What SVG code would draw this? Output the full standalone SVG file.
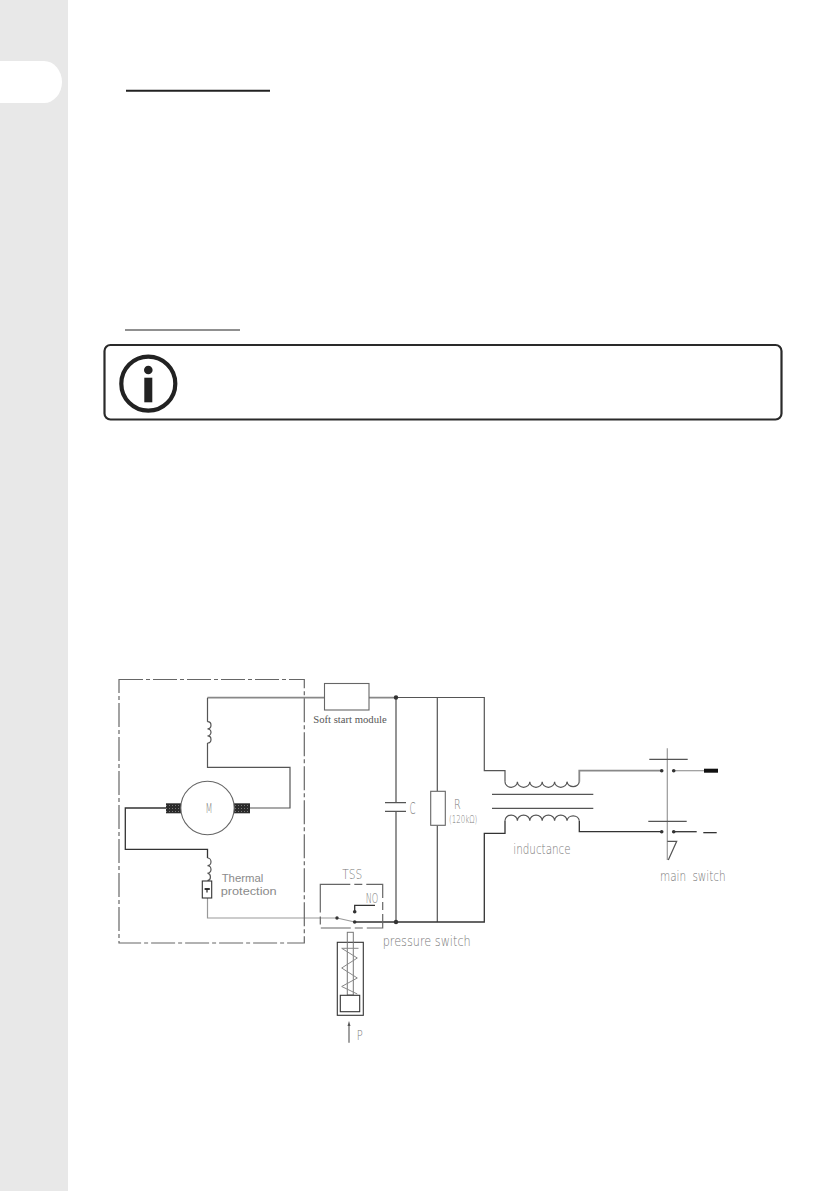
<svg xmlns="http://www.w3.org/2000/svg" width="839" height="1191" viewBox="0 0 839 1191">
<style>
.w{fill:none;stroke:#555;stroke-width:1.2}
.d{fill:none;stroke:#333;stroke-width:1.3}
.g{fill:none;stroke:#999;stroke-width:1.2}
.h{fill:none;stroke:#888;stroke-width:1.8}
.b{fill:#fff;stroke:#666;stroke-width:1.1}
.dash{fill:none;stroke:#666;stroke-width:1.2}
.dot{fill:#333}
text{font-family:"DejaVu Sans","Liberation Sans",sans-serif;fill:#777;font-weight:200;font-size:14px;opacity:.99}
.s{font-family:"Liberation Serif",serif;fill:#555;font-size:11px}
.t{font-family:"Liberation Sans",sans-serif;font-weight:400;fill:#8a8a8a;font-size:11.5px}
</style>
<defs>
<pattern id="brush" width="3" height="3" patternUnits="userSpaceOnUse">
<rect width="3" height="3" fill="#2b2b2b"/>
<rect x="1" y="1" width="1" height="1" fill="#777"/>
</pattern>
</defs>
<rect width="839" height="1191" fill="#fff"/>
<g id="page">
<rect x="0" y="0" width="68" height="1191" fill="#e8e8e8"/>
<path d="M0 61H44A18 21 0 0 1 62 82A18 21 0 0 1 44 103H0Z" fill="#fff"/>
<path d="M126 90.7H270" stroke="#222" stroke-width="2" fill="none"/>
<path d="M125 330H240" stroke="#222" stroke-width="1.2" fill="none"/>
</g>
<g id="info-box">
<rect x="104.5" y="345" width="677" height="74.5" rx="6" fill="#fff" stroke="#2a2a2a" stroke-width="2.2"/>
<circle cx="148.3" cy="383.7" r="27" fill="none" stroke="#222" stroke-width="4.2"/>
<circle cx="148.3" cy="370" r="4.3" fill="#222"/>
<rect x="144.3" y="377.7" width="8" height="24.6" fill="#222"/>
</g>
<g id="connectors">
<path class="h" d="M207.5 697.7H324.5M369 697.7H396"/>
<path class="w" d="M396 697.5H484.3V770.7H505V781.7"/>
<path class="w" d="M207.5 697.7V721.7M207.5 743V767.3H290V808H250"/>
<path class="d" d="M166 808H125.3V849.3H207.5V858"/>
<path class="g" d="M207.5 898V918H337"/>
<path class="h" d="M396 697.5V922"/>
<path class="w" d="M437.3 697.5V791.3M437.3 825.3V922"/>
<path class="d" d="M354.7 922H484.3V833.3H505V820.7"/>
<path class="h" d="M579.3 781.7V770.7H661.7"/>
<path class="d" d="M579.3 820.7V831.7H661.7"/>
<path class="g" d="M673.7 770.7H704"/>
<path class="d" d="M673.7 831.7H696.7"/>
</g>
<g id="motor-box"><rect class="dash" x="119" y="679.5" width="185.3" height="263.5" stroke-dasharray="24 3 4 3"/></g>
<g id="soft-start">
<rect class="b" x="324.5" y="683.5" width="44.5" height="26.5" stroke="#444"/>
<text class="s" x="313.3" y="722.7" textLength="73.4" lengthAdjust="spacingAndGlyphs">Soft start module</text>
</g>
<g id="field-coil-top"><path class="w" d="M207.5 721.7a3.5 3.55 0 0 1 0 7.1a3.5 3.55 0 0 1 0 7.1a3.5 3.55 0 0 1 0 7.1"/></g>
<g id="motor">
<rect x="166" y="803.3" width="15" height="10" fill="url(#brush)"/>
<rect x="233" y="803.3" width="17" height="10" fill="url(#brush)"/>
<circle cx="207.5" cy="808" r="26.7" fill="#fff" stroke="#666" stroke-width="1.1"/>
<text x="205.5" y="812.5" font-size="14" style="font-size:14px" textLength="7" lengthAdjust="spacingAndGlyphs">M</text>
</g>
<g id="field-coil-bottom"><path class="w" d="M207.5 858a3.5 3.8 0 0 1 0 7.6a3.5 3.8 0 0 1 0 7.6a3.5 3.8 0 0 1 0 7.5"/></g>
<g id="thermal-protection">
<rect x="202.3" y="881" width="9.4" height="17" fill="#fff" stroke="#333" stroke-width="1.1"/>
<path d="M204.6 889H209.8" stroke="#222" stroke-width="1.8" fill="none"/>
<path d="M207 889V892.5" stroke="#222" stroke-width="1.2" fill="none"/>
<text class="t" x="221.7" y="881.7" textLength="41.6" lengthAdjust="spacingAndGlyphs">Thermal</text>
<text class="t" x="220.7" y="895" textLength="56" lengthAdjust="spacingAndGlyphs">protection</text>
</g>
<g id="tss">
<rect class="dash" x="320.3" y="884.3" width="62.4" height="43.7" stroke-dasharray="30 4 8 4"/>
<text x="342.3" y="879" textLength="20" lengthAdjust="spacingAndGlyphs">TSS</text>
<text x="365.7" y="902.7" textLength="12.6" lengthAdjust="spacingAndGlyphs">NO</text>
<path class="g" d="M337 918L354.7 922" stroke="#666"/>
<path class="d" d="M354.7 911.7V905.3H375"/>
<circle class="dot" cx="337" cy="918" r="1.7"/>
<circle class="dot" cx="354.7" cy="922" r="1.8"/>
<circle class="dot" cx="354.7" cy="911.7" r="1.8"/>
</g>
<g id="junctions">
<circle class="dot" cx="396" cy="697.5" r="2.2"/>
<circle class="dot" cx="396" cy="922" r="2.2"/>
</g>
<g id="capacitor">
<rect x="385" y="803" width="21" height="8" fill="#fff"/>
<path class="w" d="M385 802.7H406M385 811.3H406"/>
<text x="409.5" y="813.5" style="font-size:16px" textLength="6" lengthAdjust="spacingAndGlyphs">C</text>
</g>
<g id="resistor">
<rect class="b" x="430.7" y="791.3" width="14.6" height="34"/>
<text x="454" y="809" textLength="6.7" lengthAdjust="spacingAndGlyphs">R</text>
<text x="449" y="823.3" style="font-size:10px" textLength="28.3" lengthAdjust="spacingAndGlyphs">(120kΩ)</text>
</g>
<g id="inductance">
<path class="w" d="M505 781.7a6.2 5.6 0 0 0 12.4 0a6.2 5.6 0 0 0 12.4 0a6.2 5.6 0 0 0 12.4 0a6.2 5.6 0 0 0 12.4 0a6.2 5.6 0 0 0 12.4 0a6.2 5.6 0 0 0 12.3 0"/>
<path class="w" d="M505 820.7a6.2 5.6 0 0 1 12.4 0a6.2 5.6 0 0 1 12.4 0a6.2 5.6 0 0 1 12.4 0a6.2 5.6 0 0 1 12.4 0a6.2 5.6 0 0 1 12.4 0a6.2 5.6 0 0 1 12.3 0"/>
<path class="w" d="M492 794.3H593.3M492 808.3H593.3"/>
<text x="513.3" y="854" textLength="57.4" lengthAdjust="spacingAndGlyphs">inductance</text>
</g>
<g id="main-switch">
<path class="g" stroke="#777" d="M667.3 748.3V860"/>
<path class="w" d="M649.3 759.3H687.7M648.3 821.3H686.7M667.3 841.3H676.7L668.3 860"/>
<circle class="dot" cx="661.7" cy="770.7" r="1.8"/>
<circle class="dot" cx="673.7" cy="770.7" r="1.8"/>
<circle class="dot" cx="661.7" cy="831.7" r="1.8"/>
<circle class="dot" cx="673.7" cy="831.7" r="1.8"/>
<rect x="704" y="768.7" width="14" height="4" fill="#111"/>
<rect x="703.3" y="832" width="13.4" height="1.3" fill="#333"/>
<text x="660" y="881" word-spacing="4" textLength="65.7" lengthAdjust="spacingAndGlyphs">main switch</text>
</g>
<g id="pressure-switch">
<rect x="337.3" y="942.3" width="26" height="73" fill="#fff" stroke="#333" stroke-width="1.1"/>
<rect x="347.3" y="932.3" width="6" height="62.7" fill="none" stroke="#777" stroke-width="1"/>
<path d="M341.7 948.3H358.5M341.7 948.3L357.3 958L341.7 968L357.3 978L341.7 986.5L357.3 994" fill="none" stroke="#888" stroke-width="1"/>
<rect x="340.3" y="995.3" width="19.4" height="16.4" fill="#fff" stroke="#333" stroke-width="1.1"/>
<path d="M349 1042.7V1024" stroke="#555" stroke-width="1.1" fill="none"/>
<path d="M349 1021L347.5 1026H350.5Z" fill="#555"/>
<text x="356.7" y="1040" textLength="6" lengthAdjust="spacingAndGlyphs">P</text>
<text x="382.7" y="946" textLength="88" lengthAdjust="spacingAndGlyphs">pressure switch</text>
</g>
</svg>
